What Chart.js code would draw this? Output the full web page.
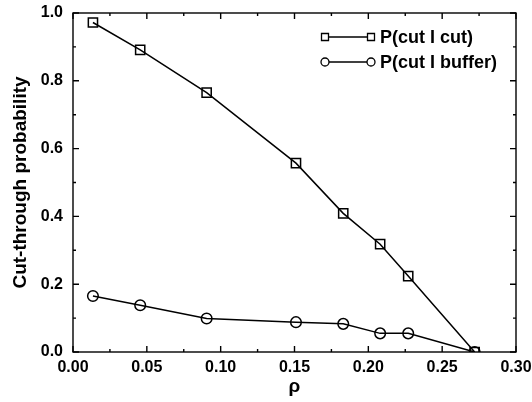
<!DOCTYPE html>
<html>
<head>
<meta charset="utf-8">
<script src="https://cdn.jsdelivr.net/npm/chart.js@4.4.0/dist/chart.umd.min.js"></script>
<style>
  html, body { margin: 0; padding: 0; background: #fff; }
  #wrap { width: 532px; height: 402px; }
</style>
</head>
<body>
<div id="wrap"><canvas id="chart" width="532" height="402"></canvas></div>
<script>
// load values
const rho = [0.0135, 0.0455, 0.0905, 0.151, 0.183, 0.208, 0.227, 0.272];
const cutCut = [0.972, 0.891, 0.765, 0.557, 0.409, 0.318, 0.224, 0.0];
const cutBuffer = [0.165, 0.138, 0.099, 0.088, 0.083, 0.055, 0.055, 0.0];
const seriesNames = ['P(cut I cut)', 'P(cut I buffer)'];
const xTicks = [0.00, 0.05, 0.10, 0.15, 0.20, 0.25, 0.30];
const yTicks = [0.0, 0.2, 0.4, 0.6, 0.8, 1.0];

const FONT = '"Liberation Sans", Arial, sans-serif';

function toPoints(xs, ys) {
    return xs.map((x, i) => ({ x: x, y: ys[i] }));
}

// inward ticks on all four sides + box frame + legend
const frameTicks = {
    id: 'frameTicks',
    afterDraw(chart) {
        const ctx = chart.ctx;
        const a = chart.chartArea;
        const xs = chart.scales.x, ys = chart.scales.y;
        ctx.save();
        ctx.strokeStyle = '#000';
        ctx.lineWidth = 1.4;
        ctx.strokeRect(a.left, a.top, a.right - a.left, a.bottom - a.top);
        ctx.beginPath();
        for (let v = 0; v <= 0.3001; v += 0.025) {
            const major = Math.abs(v / 0.05 - Math.round(v / 0.05)) < 1e-6;
            const len = major ? 6 : 3;
            const px = xs.getPixelForValue(v);
            ctx.moveTo(px, a.bottom); ctx.lineTo(px, a.bottom - len);
            ctx.moveTo(px, a.top); ctx.lineTo(px, a.top + len);
        }
        for (let v = 0; v <= 1.0001; v += 0.1) {
            const major = Math.abs(v / 0.2 - Math.round(v / 0.2)) < 1e-6;
            const len = major ? 6 : 3;
            const py = ys.getPixelForValue(v);
            ctx.moveTo(a.left, py); ctx.lineTo(a.left + len, py);
            ctx.moveTo(a.right, py); ctx.lineTo(a.right - len, py);
        }
        ctx.stroke();

        // legend: line with a marker at each end
        const rows = [
            { label: seriesNames[0], style: 'rect', y: 37 },
            { label: seriesNames[1], style: 'circle', y: 62 }
        ];
        const x0 = 325, x1 = 371;
        ctx.lineWidth = 1.3;
        rows.forEach(r => {
            ctx.beginPath();
            ctx.moveTo(x0, r.y); ctx.lineTo(x1, r.y);
            ctx.stroke();
            [x0, x1].forEach(px => {
                ctx.beginPath();
                if (r.style === 'rect') {
                    ctx.rect(px - 3.5, r.y - 3.5, 7, 7);
                } else {
                    ctx.arc(px, r.y, 4, 0, Math.PI * 2);
                }
                ctx.fillStyle = '#fff';
                ctx.fill();
                ctx.stroke();
            });
            ctx.fillStyle = '#000';
            ctx.font = 'bold 18px ' + FONT;
            ctx.textBaseline = 'middle';
            ctx.textAlign = 'left';
            ctx.fillText(r.label, 380, r.y + 1);
        });
        ctx.restore();
    }
};

const ctx = document.getElementById('chart').getContext('2d');
new Chart(ctx, {
    type: 'scatter',
    data: {
        datasets: [{
            label: seriesNames[0],
            data: toPoints(rho, cutCut),
            showLine: true,
            borderColor: '#000',
            borderWidth: 1.5,
            pointStyle: 'rect',
            pointRadius: 6.5,
            pointBorderWidth: 1.5,
            pointBorderColor: '#000',
            pointBackgroundColor: 'rgba(255,255,255,0)'
        }, {
            label: seriesNames[1],
            data: toPoints(rho, cutBuffer),
            showLine: true,
            borderColor: '#000',
            borderWidth: 1.5,
            pointStyle: 'circle',
            pointRadius: 5.3,
            pointBorderWidth: 1.5,
            pointBorderColor: '#000',
            pointBackgroundColor: 'rgba(255,255,255,0)'
        }]
    },
    options: {
        responsive: false,
        animation: false,
        layout: { padding: { top: 13, right: 16, bottom: 0, left: 0 } },
        plugins: {
            legend: { display: false },
            tooltip: { enabled: false }
        },
        scales: {
            x: {
                type: 'linear',
                min: 0, max: 0.3,
                afterBuildTicks(scale) { scale.ticks = xTicks.map(v => ({ value: v })); },
                grid: { display: false, drawTicks: false },
                border: { display: false },
                ticks: {
                    color: '#000',
                    padding: 6,
                    maxRotation: 0,
                    font: { family: FONT, size: 16, weight: 'bold' },
                    callback: v => v.toFixed(2)
                },
                title: {
                    display: true,
                    text: 'ρ',
                    color: '#000',
                    font: { family: FONT, size: 19, weight: 'bold' },
                    padding: { top: 0, bottom: 4 }
                },
                afterFit(scale) {
                    scale.height = 50;
                    scale.paddingLeft = 0;
                    scale.paddingRight = 0;
                }
            },
            y: {
                type: 'linear',
                min: 0, max: 1,
                afterBuildTicks(scale) { scale.ticks = yTicks.map(v => ({ value: v })); },
                grid: { display: false, drawTicks: false },
                border: { display: false },
                ticks: {
                    color: '#000',
                    padding: 10,
                    font: { family: FONT, size: 16, weight: 'bold' },
                    callback: v => v.toFixed(1)
                },
                title: {
                    display: true,
                    text: 'Cut-through probability',
                    color: '#000',
                    font: { family: FONT, size: 19, weight: 'bold' },
                    padding: { top: 9, bottom: 0 }
                },
                afterFit(scale) {
                    scale.width = 73;
                    scale.paddingTop = 0;
                    scale.paddingBottom = 0;
                }
            }
        }
    },
    plugins: [frameTicks]
});
</script>
</body>
</html>
